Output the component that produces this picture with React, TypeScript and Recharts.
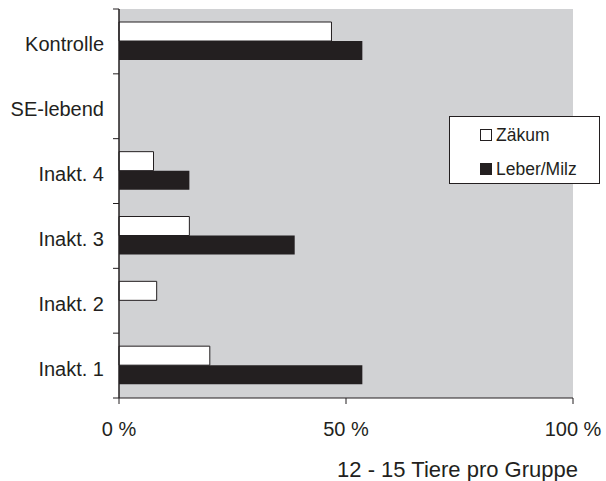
import React from 'react'
import {
  Bar,
  BarChart,
  CartesianGrid,
  Legend,
  XAxis,
  YAxis,
} from 'recharts'

const categories = ['Kontrolle', 'SE-lebend', 'Inakt. 4', 'Inakt. 3', 'Inakt. 2', 'Inakt. 1']
const zaekum = [46.8, 0, 7.6, 15.5, 8.3, 20]
const leberMilz = [53.6, 0, 15.5, 38.7, 0, 53.6]
const seriesNames = ['Zäkum', 'Leber/Milz']
const xTicks = [0, 50, 100]

const data = categories.map((name, i) => ({
  name,
  zaekum: zaekum[i],
  leber: leberMilz[i],
}))

const INK = '#231f20'
const PLOT_BG = '#d1d2d4'
const FONT = '"Liberation Sans", Arial, Helvetica, sans-serif'
const PLOT_TOP = 9
const PLOT_BOTTOM = 398
const BAND = (PLOT_BOTTOM - PLOT_TOP) / categories.length

const CategoryTick = (props: any) => {
  const { x, y, payload, index } = props
  const half = BAND / 2
  return (
    <g>
      <line x1={x - 6} x2={x} y1={y - half} y2={y - half} stroke={INK} />
      {index === categories.length - 1 && (
        <line x1={x - 6} x2={x} y1={y + half} y2={y + half} stroke={INK} />
      )}
      <text x={x - 15} y={y + 10} textAnchor="end" fontSize={20} fill={INK} fontFamily={FONT}>
        {payload.value}
      </text>
    </g>
  )
}

const LegendBox = (props: any) => {
  const items = [...(props.payload || [])].sort(
    (a: any, b: any) => seriesNames.indexOf(a.value) - seriesNames.indexOf(b.value)
  )
  return (
    <div
      style={{
        width: '100%',
        height: '100%',
        boxSizing: 'border-box',
        border: `1px solid ${INK}`,
        background: '#fff',
        paddingTop: 1,
        fontFamily: FONT,
        fontSize: 17.5,
        color: INK,
      }}
    >
      {items.map((entry: any) => (
        <div
          key={entry.value}
          style={{ height: 34, display: 'flex', alignItems: 'center', paddingLeft: 30 }}
        >
          <span
            style={{
              display: 'inline-block',
              width: 12,
              height: 12,
              boxSizing: 'border-box',
              border: `1px solid ${INK}`,
              background: entry.color,
              marginRight: 4,
            }}
          />
          <span>{entry.value}</span>
        </div>
      ))}
    </div>
  )
}

export default function App() {
  return (
    <div>
      <style>{'body{margin:0}'}</style>
      <BarChart
        width={606}
        height={481}
        data={data}
        layout="vertical"
        margin={{ top: PLOT_TOP, right: 33, left: 0, bottom: 0 }}
        barGap={0}
        barSize={19}
      >
        <CartesianGrid fill={PLOT_BG} horizontal={false} vertical={false} />
        <XAxis
          type="number"
          domain={[0, 100]}
          ticks={xTicks}
          tickFormatter={(v: number) => `${v} %`}
          height={83}
          tickSize={6}
          tickMargin={18}
          stroke={INK}
          axisLine={{ stroke: INK }}
          tickLine={{ stroke: INK }}
          tick={{ fill: INK, fontSize: 20, fontFamily: FONT }}
          label={{
            content: ({ viewBox }: any) => (
              <text
                x={viewBox.x + viewBox.width + 5}
                y={476.5}
                textAnchor="end"
                fontSize={22}
                fill={INK}
                fontFamily={FONT}
              >
                12 - 15 Tiere pro Gruppe
              </text>
            ),
          }}
        />
        <XAxis
          xAxisId="top"
          orientation="top"
          type="number"
          domain={[0, 100]}
          height={0}
          tick={false}
          tickLine={false}
          axisLine={{ stroke: INK }}
        />
        <YAxis
          type="category"
          dataKey="name"
          width={119}
          tickSize={0}
          tickMargin={0}
          tickLine={false}
          axisLine={{ stroke: INK, strokeWidth: 1.5 }}
          tick={<CategoryTick />}
          interval={0}
        />
        <YAxis
          yAxisId="right"
          orientation="right"
          type="category"
          dataKey="name"
          width={0}
          tick={false}
          tickLine={false}
          axisLine={{ stroke: INK }}
        />
        <Legend
          layout="vertical"
          align="center"
          verticalAlign="middle"
          content={<LegendBox />}
          wrapperStyle={{ position: 'absolute', left: 449, top: 116, width: 151, height: 68 }}
        />
        <Bar
          dataKey="zaekum"
          name={seriesNames[0]}
          fill="#ffffff"
          stroke={INK}
          strokeWidth={1}
          isAnimationActive={false}
        />
        <Bar
          dataKey="leber"
          name={seriesNames[1]}
          fill={INK}
          isAnimationActive={false}
        />
      </BarChart>
    </div>
  )
}
